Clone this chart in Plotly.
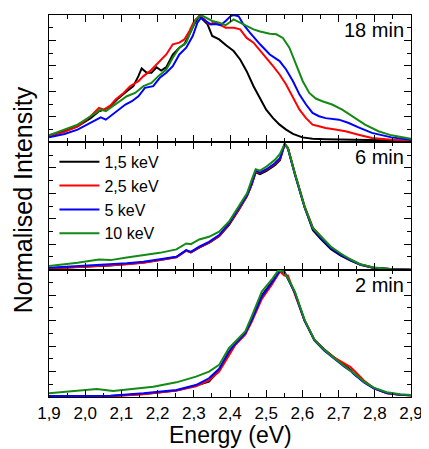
import plotly.graph_objects as go
from plotly.subplots import make_subplots

# 18 min panel
e18_k = [1.9, 1.943, 1.979, 2.015, 2.038, 2.052, 2.07, 2.088, 2.115, 2.133, 2.147, 2.156, 2.17, 2.183, 2.197,
         2.21, 2.224, 2.242, 2.26, 2.274, 2.288, 2.301, 2.315, 2.324, 2.338, 2.351, 2.37, 2.39, 2.41, 2.428,
         2.446, 2.465, 2.483, 2.5, 2.519, 2.537, 2.555, 2.574, 2.6, 2.628, 2.664, 2.755, 2.9]
i18_k = [0.055, 0.087, 0.126, 0.19, 0.244, 0.257, 0.283, 0.336, 0.402, 0.441, 0.52, 0.58, 0.546, 0.546, 0.59,
         0.564, 0.59, 0.69, 0.743, 0.77, 0.848, 0.926, 0.992, 0.966, 0.926, 0.835, 0.808, 0.76, 0.717, 0.651,
         0.559, 0.441, 0.35, 0.257, 0.19, 0.139, 0.1, 0.066, 0.039, 0.029, 0.025, 0.021, 0.013]
e18_r = [1.9, 1.943, 1.979, 2.015, 2.038, 2.052, 2.07, 2.084, 2.106, 2.124, 2.147, 2.161, 2.179, 2.202, 2.224,
         2.242, 2.26, 2.274, 2.288, 2.301, 2.315, 2.329, 2.342, 2.356, 2.37, 2.388, 2.41, 2.428, 2.446, 2.465,
         2.483, 2.5, 2.519, 2.537, 2.555, 2.574, 2.592, 2.61, 2.628, 2.646, 2.664, 2.691, 2.719, 2.755, 2.792,
         2.846, 2.9]
i18_r = [0.045, 0.082, 0.126, 0.205, 0.27, 0.257, 0.29, 0.336, 0.388, 0.441, 0.48, 0.52, 0.559, 0.625, 0.69,
         0.77, 0.783, 0.808, 0.874, 0.953, 0.992, 0.966, 0.926, 0.94, 0.926, 0.9, 0.9, 0.887, 0.82, 0.783,
         0.717, 0.664, 0.598, 0.533, 0.454, 0.35, 0.257, 0.19, 0.139, 0.126, 0.113, 0.1, 0.087, 0.06, 0.034,
         0.021, 0.008]
e18_b = [1.9, 1.943, 1.979, 2.015, 2.043, 2.057, 2.07, 2.088, 2.111, 2.129, 2.147, 2.165, 2.188, 2.206, 2.224,
         2.242, 2.26, 2.279, 2.297, 2.31, 2.32, 2.333, 2.347, 2.36, 2.374, 2.388, 2.402, 2.41, 2.424, 2.437,
         2.455, 2.483, 2.51, 2.537, 2.555, 2.574, 2.592, 2.61, 2.628, 2.646, 2.664, 2.701, 2.728, 2.755, 2.792,
         2.846, 2.9]
i18_b = [0.039, 0.066, 0.1, 0.152, 0.197, 0.178, 0.205, 0.244, 0.297, 0.323, 0.362, 0.428, 0.441, 0.507, 0.546,
         0.598, 0.69, 0.743, 0.835, 0.94, 0.979, 0.953, 0.926, 0.93, 0.92, 0.953, 0.992, 1.0, 0.99, 0.926,
         0.861, 0.77, 0.69, 0.638, 0.572, 0.48, 0.375, 0.297, 0.231, 0.205, 0.19, 0.178, 0.152, 0.118, 0.074,
         0.039, 0.021]
e18_g = [1.9, 1.943, 1.979, 2.015, 2.043, 2.057, 2.07, 2.093, 2.115, 2.138, 2.161, 2.183, 2.202, 2.224, 2.242,
         2.26, 2.279, 2.292, 2.306, 2.32, 2.333, 2.351, 2.37, 2.388, 2.41, 2.428, 2.446, 2.465, 2.483, 2.51,
         2.528, 2.546, 2.564, 2.583, 2.601, 2.619, 2.637, 2.655, 2.682, 2.71, 2.737, 2.773, 2.81, 2.846, 2.9]
i18_g = [0.055, 0.1, 0.139, 0.205, 0.257, 0.244, 0.27, 0.323, 0.362, 0.388, 0.441, 0.467, 0.52, 0.572, 0.664,
         0.743, 0.783, 0.874, 0.966, 1.0, 0.979, 0.953, 0.94, 0.92, 0.966, 0.94, 0.913, 0.887, 0.87, 0.853,
         0.848, 0.82, 0.743, 0.611, 0.48, 0.388, 0.344, 0.323, 0.297, 0.257, 0.205, 0.139, 0.087, 0.055, 0.029]

# 6 min panel
e6 = [1.9, 1.979, 2.038, 2.07, 2.115, 2.161, 2.206, 2.252, 2.279, 2.292, 2.315, 2.342, 2.37, 2.397, 2.424,
      2.447, 2.46, 2.471, 2.483, 2.501, 2.524, 2.538, 2.551, 2.56, 2.579, 2.606, 2.629, 2.651, 2.679, 2.706,
      2.733, 2.76, 2.797, 2.851, 2.9]
i6_k = [0.012, 0.022, 0.03, 0.032, 0.044, 0.057, 0.076, 0.099, 0.15, 0.136, 0.174, 0.21, 0.262, 0.35, 0.468,
        0.578, 0.668, 0.765, 0.75, 0.775, 0.82, 0.86, 0.985, 0.955, 0.755, 0.49, 0.31, 0.24, 0.16, 0.11,
        0.072, 0.038, 0.014, 0.003, 0.0]
i6_r = [0.008, 0.02, 0.028, 0.03, 0.042, 0.055, 0.075, 0.098, 0.15, 0.135, 0.175, 0.212, 0.265, 0.355, 0.47,
        0.58, 0.67, 0.77, 0.76, 0.785, 0.83, 0.87, 0.985, 0.955, 0.76, 0.5, 0.33, 0.26, 0.175, 0.12,
        0.077, 0.04, 0.015, 0.003, 0.0]
i6_b = [0.015, 0.028, 0.036, 0.04, 0.05, 0.062, 0.08, 0.101, 0.154, 0.14, 0.18, 0.219, 0.272, 0.364, 0.482,
        0.587, 0.679, 0.778, 0.762, 0.789, 0.836, 0.875, 0.988, 0.95, 0.75, 0.49, 0.32, 0.25, 0.17, 0.118,
        0.075, 0.04, 0.015, 0.003, 0.0]
i6_g = [0.028, 0.054, 0.08, 0.075, 0.096, 0.114, 0.132, 0.159, 0.206, 0.2, 0.237, 0.258, 0.298, 0.377, 0.495,
        0.6, 0.705, 0.789, 0.778, 0.81, 0.862, 0.909, 0.988, 0.954, 0.757, 0.495, 0.325, 0.258, 0.18, 0.127,
        0.08, 0.043, 0.017, 0.003, 0.0]

# 2 min panel
e2 = [1.9, 2.07, 2.161, 2.252, 2.306, 2.342, 2.37, 2.397, 2.415, 2.442, 2.46, 2.488, 2.515, 2.538, 2.55,
      2.56, 2.579, 2.606, 2.633, 2.66, 2.688, 2.715, 2.733, 2.742, 2.77, 2.797, 2.833, 2.87, 2.9]
i2_k = [0.005, 0.008, 0.024, 0.05, 0.09, 0.12, 0.21, 0.35, 0.415, 0.5, 0.6, 0.8, 0.9, 0.99, 0.98,
        0.93, 0.82, 0.6, 0.45, 0.375, 0.31, 0.25, 0.215, 0.185, 0.12, 0.07, 0.032, 0.018, 0.014]
i2_r = [0.003, 0.006, 0.022, 0.05, 0.085, 0.13, 0.2, 0.33, 0.41, 0.49, 0.59, 0.77, 0.88, 0.985, 0.955,
        0.955, 0.81, 0.6, 0.45, 0.37, 0.31, 0.265, 0.235, 0.21, 0.13, 0.07, 0.03, 0.017, 0.012]
i2_b = [0.008, 0.01, 0.029, 0.055, 0.094, 0.147, 0.221, 0.357, 0.42, 0.501, 0.606, 0.79, 0.895, 0.992, 0.985,
        0.93, 0.82, 0.6, 0.445, 0.365, 0.298, 0.24, 0.205, 0.18, 0.115, 0.068, 0.032, 0.018, 0.014]
e2_g = [1.9, 1.979, 2.032, 2.077, 2.124, 2.188, 2.252, 2.306, 2.342, 2.37, 2.397, 2.415, 2.442, 2.46, 2.488,
        2.515, 2.533, 2.547, 2.56, 2.579, 2.606, 2.633, 2.66, 2.688, 2.715, 2.742, 2.77, 2.797, 2.833, 2.87, 2.9]
i2_g = [0.029, 0.047, 0.063, 0.047, 0.063, 0.081, 0.115, 0.16, 0.199, 0.252, 0.383, 0.436, 0.514, 0.633, 0.829,
        0.921, 0.992, 0.987, 0.934, 0.829, 0.606, 0.449, 0.37, 0.304, 0.247, 0.186, 0.121, 0.073, 0.037, 0.021, 0.016]

names = ["1,5 keV", "2,5 keV", "5 keV", "10 keV"]
colors = ["#000000", "#ff0000", "#0000ff", "#138a13"]
panel_labels = ["18 min", "6 min", "2 min"]
x_ticks = [1.9, 2.0, 2.1, 2.2, 2.3, 2.4, 2.5, 2.6, 2.7, 2.8, 2.9]

panels = [
    [(e18_k, i18_k), (e18_r, i18_r), (e18_b, i18_b), (e18_g, i18_g)],
    [(e6, i6_k), (e6, i6_r), (e6, i6_b), (e6, i6_g)],
    [(e2, i2_k), (e2, i2_r), (e2, i2_b), (e2_g, i2_g)],
]

fig = make_subplots(rows=3, cols=1, shared_xaxes=True, vertical_spacing=0)

for row, series in enumerate(panels, start=1):
    for k, (ex, iy) in enumerate(series):
        fig.add_trace(go.Scatter(
            x=ex, y=iy, mode="lines", name=names[k],
            line=dict(color=colors[k], width=2),
            showlegend=(row == 2),
        ), row=row, col=1)

font_fam = "Arial, Liberation Sans, sans-serif"

fig.update_xaxes(
    range=[1.9, 2.9], tickvals=x_ticks, tickformat=".1f",
    ticks="inside", ticklen=7, tickwidth=1.3, tickcolor="black",
    minor=dict(dtick=0.05, ticks="inside", ticklen=4, tickwidth=1.3, tickcolor="black"),
    showline=True, linecolor="black", linewidth=1.3, mirror="ticks",
    showgrid=False, zeroline=False,
    tickfont=dict(size=17, color="black", family=font_fam),
)
fig.update_yaxes(
    range=[0, 1.0], dtick=0.2, showticklabels=False,
    ticks="inside", ticklen=7, tickwidth=1.3, tickcolor="black",
    minor=dict(dtick=0.1, ticks="inside", ticklen=4, tickwidth=1.3, tickcolor="black"),
    showline=True, linecolor="black", linewidth=1.3, mirror="ticks",
    showgrid=False, zeroline=False,
)

for row, label in enumerate(panel_labels, start=1):
    yref = "y domain" if row == 1 else "y%d domain" % row
    fig.add_annotation(
        text=label, xref="x domain", yref=yref, x=0.985, y=0.985,
        xanchor="right", yanchor="top", showarrow=False,
        font=dict(size=20, color="black", family=font_fam),
    )

# axis titles
fig.add_annotation(
    text="Normalised Intensity", xref="paper", yref="paper", x=0, y=0.515,
    xanchor="center", yanchor="middle", xshift=-26, textangle=-90, showarrow=False,
    font=dict(size=25, color="black", family=font_fam),
)
fig.add_annotation(
    text="Energy (eV)", xref="paper", yref="paper", x=0.5, y=0,
    xanchor="center", yanchor="top", yshift=-23, showarrow=False,
    font=dict(size=23, color="black", family=font_fam),
)

# page body keeps an 8px margin, so the figure is 8px smaller on each side
fig.update_layout(
    width=421, height=441,
    margin=dict(l=41, r=13, t=6, b=52),
    paper_bgcolor="white", plot_bgcolor="white",
    separators=",.",
    font=dict(family=font_fam, color="black"),
    legend=dict(
        x=0.015, y=0.66, xanchor="left", yanchor="top",
        bgcolor="rgba(0,0,0,0)", font=dict(size=16, color="black", family=font_fam),
        tracegroupgap=0, itemwidth=40,
    ),
)

fig.write_html("out.html")
